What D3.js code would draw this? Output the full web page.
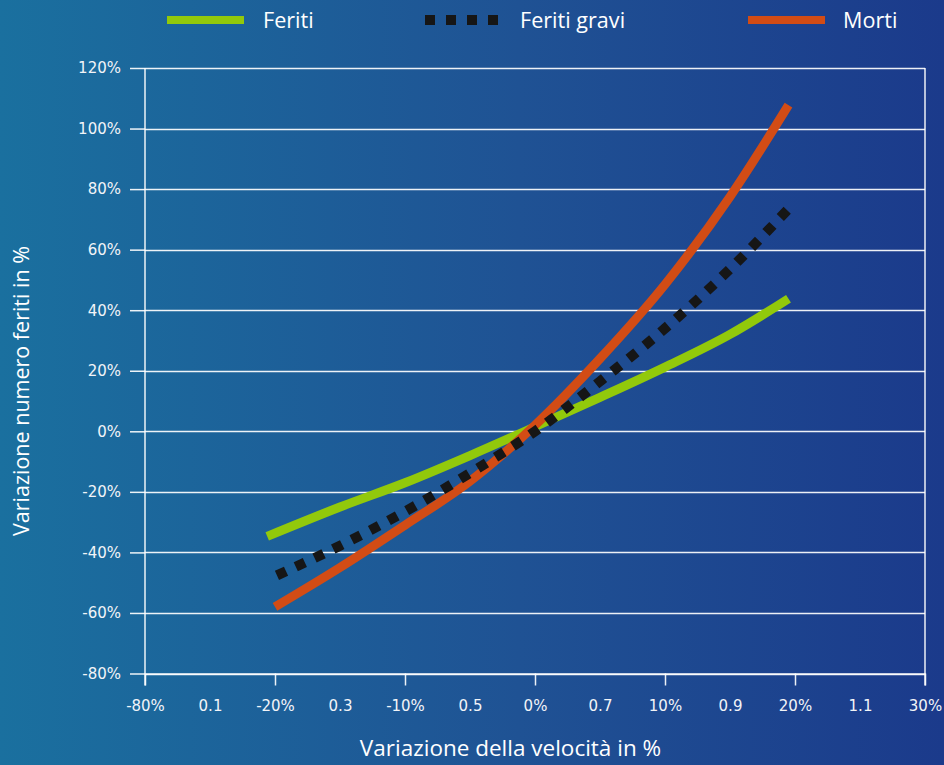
<!DOCTYPE html>
<html>
<head>
<meta charset="utf-8">
<script src="https://cdn.jsdelivr.net/npm/d3@7"></script>
<style>
  html, body { margin: 0; padding: 0; background: #1b5a96; }
  svg { display: block; }
</style>
</head>
<body>
<svg id="chart" width="944" height="765"></svg>
<script>
// ---- data ----
const xTickValues = [0, 0.1, 0.2, 0.3, 0.4, 0.5, 0.6, 0.7, 0.8, 0.9, 1.0, 1.1, 1.2];
const xTickLabels = ["-80%", "0.1", "-20%", "0.3", "-10%", "0.5", "0%", "0.7", "10%", "0.9", "20%", "1.1", "30%"];
const xMajorTicks = [0, 0.2, 0.4, 0.6, 0.8, 1.0, 1.2];
const yTickValues = [-80, -60, -40, -20, 0, 20, 40, 60, 80, 100, 120];

const feritiX = [0.188, 0.3, 0.4, 0.5, 0.6, 0.7, 0.8, 0.9, 0.99];
const feritiY = [-34.7, -25, -17, -8, 1.5, 11.2, 21.2, 32, 43.8];

const feritiGraviX = [0.203, 0.3, 0.4, 0.5, 0.6, 0.7, 0.8, 0.9, 0.988];
const feritiGraviY = [-47.6, -37.8, -26.5, -13.8, 0, 16.5, 34, 53.6, 73];

const mortiX = [0.2, 0.3, 0.4, 0.5, 0.6, 0.7, 0.8, 0.9, 0.99];
const mortiY = [-58, -45, -31, -16.5, 2, 24, 48.5, 77.5, 107.7];

const seriesNames = ["Feriti", "Feriti gravi", "Morti"];
const xTitle = "Variazione della velocità in %";
const yTitle = "Variazione numero feriti in %";

// ---- drawing ----
const svg = d3.select("#chart");
const W = 944, H = 765;
const FONT = "'Open Sans', 'Noto Sans', sans-serif";
const TICKFONT = "'DejaVu Sans', 'Open Sans', sans-serif";

const defs = svg.append("defs");
const grad = defs.append("linearGradient").attr("id", "bg")
  .attr("x1", "0%").attr("y1", "0%").attr("x2", "100%").attr("y2", "0%");
grad.append("stop").attr("offset", "0%").attr("stop-color", "#1a709f");
grad.append("stop").attr("offset", "55%").attr("stop-color", "#1f5294");
grad.append("stop").attr("offset", "100%").attr("stop-color", "#1b3a8b");
svg.append("rect").attr("width", W).attr("height", H).attr("fill", "url(#bg)");

const x = d3.scaleLinear().domain([0, 1.2]).range([145, 925]);
const y = d3.scaleLinear().domain([-80, 120]).range([673.5, 68]);

const gridColor = "rgba(255,255,255,0.92)";

// horizontal gridlines
svg.append("g").selectAll("line").data(yTickValues).join("line")
  .attr("x1", x(0)).attr("x2", x(1.2))
  .attr("y1", d => Math.round(y(d)) + 0.5).attr("y2", d => Math.round(y(d)) + 0.5)
  .attr("stroke", gridColor).attr("stroke-width", 1.5);

// right border
svg.append("line")
  .attr("x1", x(1.2)).attr("x2", x(1.2))
  .attr("y1", y(120)).attr("y2", y(-80) + 12)
  .attr("stroke", gridColor).attr("stroke-width", 1.5);

// y axis
const yAxis = d3.axisLeft(y).tickValues(yTickValues)
  .tickFormat(d => d + "%").tickSizeInner(15).tickSizeOuter(0).tickPadding(9);
const gy = svg.append("g").attr("transform", `translate(${x(0)},0)`).call(yAxis);
gy.select(".domain").attr("stroke", gridColor).attr("stroke-width", 1.5)
  .attr("d", `M0,${y(120)}V${y(-80) + 12}`);
gy.selectAll(".tick line").attr("stroke", gridColor).attr("stroke-width", 1.5);
gy.selectAll(".tick text").attr("fill", "#f2f4f8").style("font-family", TICKFONT).style("font-size", "15px");

// x axis
const xAxis = d3.axisBottom(x).tickValues(xTickValues)
  .tickFormat((d, i) => xTickLabels[i]).tickSizeInner(12).tickSizeOuter(0).tickPadding(15);
const gx = svg.append("g").attr("transform", `translate(0,${y(-80)})`).call(xAxis);
gx.select(".domain").attr("stroke", gridColor).attr("stroke-width", 1.5);
gx.selectAll(".tick line")
  .attr("stroke", gridColor).attr("stroke-width", 1.5)
  .attr("display", d => xMajorTicks.some(m => Math.abs(m - d) < 1e-9) ? null : "none");
gx.selectAll(".tick text").attr("fill", "#f2f4f8").style("font-family", TICKFONT).style("font-size", "15px");

// series
const line = d3.line().x(d => x(d[0])).y(d => y(d[1])).curve(d3.curveMonotoneX);
const feritiData = d3.zip(feritiX, feritiY);
const graviData = d3.zip(feritiGraviX, feritiGraviY);
const mortiData = d3.zip(mortiX, mortiY);

const green = "#92c90b", orange = "#d24c15", black = "#161616";

svg.append("path").datum(feritiData).attr("d", line)
  .attr("fill", "none").attr("stroke", green).attr("stroke-width", 9);
svg.append("path").datum(mortiData).attr("d", line)
  .attr("fill", "none").attr("stroke", orange).attr("stroke-width", 9);
const graviPath = svg.append("path").datum(graviData).attr("d", line)
  .attr("fill", "none").attr("stroke", black).attr("stroke-width", 10);
// spread whole squares evenly so both ends finish on a full square
const L = graviPath.node().getTotalLength();
const nDash = Math.round((L + 11) / 21);
const gap = (L - nDash * 10) / (nDash - 1);
graviPath.attr("stroke-dasharray", `10,${gap}`);

// legend
const legend = svg.append("g");
const legendItems = [
  { name: seriesNames[0], color: green, x1: 167, x2: 244, tx: 263, dash: null, w: 8 },
  { name: seriesNames[1], color: black, x1: 425, x2: 501, tx: 520, dash: "10,11", w: 10 },
  { name: seriesNames[2], color: orange, x1: 748, x2: 825, tx: 843, dash: null, w: 8 }
];
legendItems.forEach(it => {
  legend.append("line").attr("x1", it.x1).attr("x2", it.x2).attr("y1", 20).attr("y2", 20)
    .attr("stroke", it.color).attr("stroke-width", it.w)
    .attr("stroke-dasharray", it.dash);
  legend.append("text").attr("x", it.tx).attr("y", 28).text(it.name)
    .attr("fill", "#ffffff").style("font-family", FONT).style("font-size", "21.6px");
});

// axis titles
svg.append("text").attr("x", 510.5).attr("y", 756).attr("text-anchor", "middle")
  .text(xTitle).attr("fill", "#ffffff").style("font-family", FONT).style("font-size", "22.5px");
svg.append("text").attr("transform", "translate(29,391) rotate(-90)").attr("text-anchor", "middle")
  .text(yTitle).attr("fill", "#ffffff").style("font-family", FONT).style("font-size", "21.5px");
</script>
</body>
</html>
